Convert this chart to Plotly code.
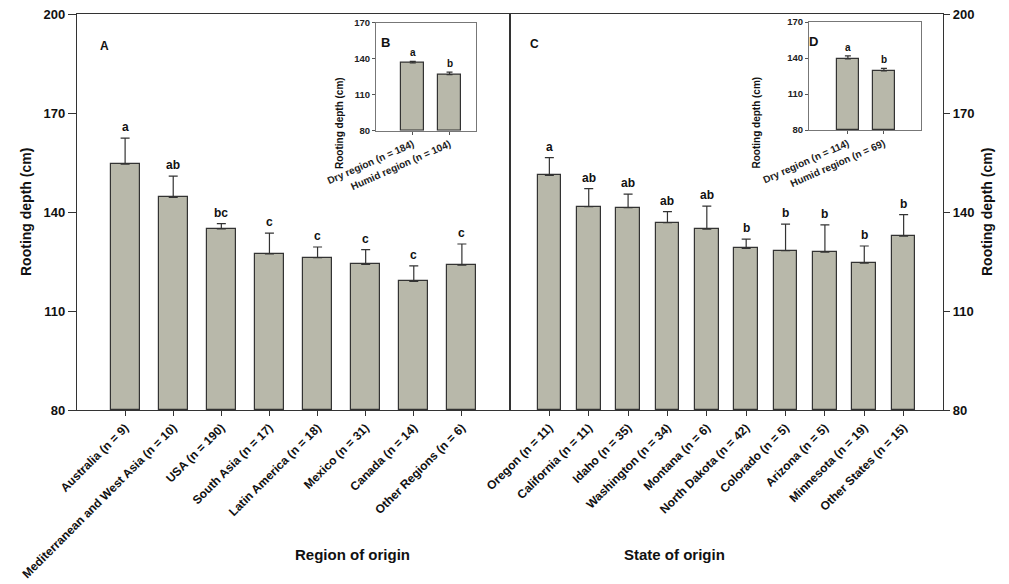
import plotly.graph_objects as go

# Panel A: rooting depth by region of origin
regions = ["Australia (n = 9)", "Mediterranean and West Asia (n = 10)", "USA (n = 190)",
           "South Asia (n = 17)", "Latin America (n = 18)", "Mexico (n = 31)",
           "Canada (n = 14)", "Other Regions (n = 6)"]
region_depth = [154.5, 144.4, 134.9, 127.3, 126.2, 124.1, 119.0, 123.9]
region_se = [7.9, 6.5, 1.6, 6.3, 3.2, 4.5, 4.7, 6.4]
region_group = ["a", "ab", "bc", "c", "c", "c", "c", "c"]

# Panel C: rooting depth by US state of origin
states = ["Oregon (n = 11)", "California (n = 11)", "Idaho (n = 35)", "Washington (n = 34)",
          "Montana (n = 6)", "North Dakota (n = 42)", "Colorado (n = 5)", "Arizona (n = 5)",
          "Minnesota (n = 19)", "Other States (n = 15)"]
state_depth = [151.1, 141.6, 141.3, 136.8, 134.8, 129.0, 128.3, 127.8, 124.5, 132.7]
state_se = [5.4, 5.5, 4.1, 3.3, 7.0, 2.8, 8.0, 8.3, 5.2, 6.5]
state_group = ["a", "ab", "ab", "ab", "ab", "b", "b", "b", "b", "b"]

# Insets B and D: dry vs humid regions
climate_b = ["Dry region (n = 184)", "Humid region (n = 104)"]
depth_b = [136.4, 126.7]
se_b = [1.4, 2.1]
group_b = ["a", "b"]

climate_d = ["Dry region (n = 114)", "Humid region (n = 69)"]
depth_d = [139.2, 129.2]
se_d = [2.5, 2.2]
group_d = ["a", "b"]

main_ticks = [80, 110, 140, 170, 200]
inset_ticks = [80, 110, 140, 170]

W, H = 1009, 584
BAR = "#b8b8aa"
EDGE = "#333333"
FONT = "Liberation Sans, Arial, sans-serif"


def px(x):
    return x / W


def py(y):
    return 1 - y / H


def bar_trace(vals, errs, xa, ya, width, cap):
    pos = list(range(1, len(vals) + 1))
    return go.Bar(
        x=pos, y=[v - 80 for v in vals], base=80, xaxis=xa, yaxis=ya, width=width,
        marker=dict(color=BAR, line=dict(color=EDGE, width=1.2)),
        error_y=dict(type="data", array=errs, arrayminus=[0] * len(vals), symmetric=False,
                     color=EDGE, thickness=1.2, width=cap),
        showlegend=False, hoverinfo="skip",
    )


fig = go.Figure()
fig.add_trace(bar_trace(region_depth, region_se, "x", "y", 0.6, 4.5))
fig.add_trace(bar_trace(state_depth, state_se, "x2", "y2", 0.6, 4.5))
fig.add_trace(bar_trace(depth_b, se_b, "x3", "y3", 0.62, 3))
fig.add_trace(bar_trace(depth_d, se_d, "x4", "y4", 0.63, 3))

bold = lambda s: "<b>%s</b>" % s

main_x = dict(showline=True, linecolor=EDGE, linewidth=1.2, mirror=True, ticks="outside",
              ticklen=5, tickcolor=EDGE, tickangle=-45, showgrid=False, zeroline=False,
              automargin=False,
              tickfont=dict(family=FONT, size=12, color="#111"), fixedrange=True)
main_y = dict(range=[80, 200], tickvals=main_ticks, ticktext=[bold(t) for t in main_ticks],
              showline=True, linecolor=EDGE, linewidth=1.2, ticks="outside", tickcolor=EDGE,
              showgrid=False, zeroline=False, mirror=True, automargin=False,
              tickfont=dict(family=FONT, size=13, color="#111"), fixedrange=True)
inset_y = dict(range=[80, 170], tickvals=inset_ticks, ticktext=[bold(t) for t in inset_ticks],
               showline=True, linecolor="#777", linewidth=1, mirror=True, ticks="outside",
               ticklen=3, tickcolor="#555", showgrid=False, zeroline=False, automargin=False,
               tickfont=dict(family=FONT, size=9.5, color="#222"), fixedrange=True)
inset_x = dict(showline=True, linecolor="#777", linewidth=1, mirror=True, ticks="outside",
               ticklen=3, tickcolor="#555", tickangle=-24, showgrid=False, zeroline=False,
               automargin=False,
               tickfont=dict(family=FONT, size=10, color="#222"), fixedrange=True)

fig.update_layout(
    width=W, height=H, margin=dict(l=0, r=0, t=0, b=0, autoexpand=False),
    paper_bgcolor="white", plot_bgcolor="rgba(0,0,0,0)", bargap=0,
    xaxis=dict(main_x, domain=[px(77), px(510)], range=[0, 9], anchor="y",
               tickvals=list(range(1, 9)), ticktext=[bold(s) for s in regions]),
    yaxis=dict(main_y, domain=[py(410), py(14)], anchor="x", ticklen=8),
    xaxis2=dict(main_x, domain=[px(510), px(943)], range=[0, 11], anchor="y2",
                tickvals=list(range(1, 11)), ticktext=[bold(s) for s in states]),
    yaxis2=dict(main_y, domain=[py(410), py(14)], anchor="x2", side="right", ticklen=6),
    xaxis3=dict(inset_x, domain=[px(376), px(476)], range=[0.0, 2.72], anchor="y3",
                tickvals=[1, 2], ticktext=[bold(s) for s in climate_b]),
    yaxis3=dict(inset_y, domain=[py(130.7), py(22.7)], anchor="x3"),
    xaxis4=dict(inset_x, domain=[px(809), px(921)], range=[-0.08, 3.03], anchor="y4",
                tickvals=[1, 2], ticktext=[bold(s) for s in climate_d]),
    yaxis4=dict(inset_y, domain=[py(130), py(22)], anchor="x4"),
)

ann = []


def letters(groups, vals, errs, xa, ya, size, shift):
    for i, (g, v, e) in enumerate(zip(groups, vals, errs)):
        ann.append(dict(x=i + 1, y=v + e, xref=xa, yref=ya, text=bold(g), showarrow=False,
                        yanchor="bottom", yshift=shift,
                        font=dict(family=FONT, size=size, color="#111")))


letters(region_group, region_depth, region_se, "x", "y", 12, 2)
letters(state_group, state_depth, state_se, "x2", "y2", 12, 2)
letters(group_b, depth_b, se_b, "x3", "y3", 10, 1)
letters(group_d, depth_d, se_d, "x4", "y4", 10, 1)

# panel labels
for lab, x, y, s in [("A", 98, 37, 12), ("C", 534, 35, 12), ("B", 385, 33, 13), ("D", 820, 32, 13)]:
    ann.append(dict(x=px(x), y=py(y), xref="paper", yref="paper", text=bold(lab),
                    showarrow=False, font=dict(family=FONT, size=s, color="#111")))

# axis titles
for txt, x, y, s, ang in [
    ("Rooting depth (cm)", 16, 212, 14, -90),
    ("Rooting depth (cm)", 997, 212, 14, -90),
    ("Rooting depth (cm)", 339, 75, 10, -90),
    ("Rooting depth (cm)", 763, 75, 10, -90),
    ("Region of origin", 293, 565, 15, 0),
    ("State of origin", 727, 565, 15, 0),
]:
    ann.append(dict(x=px(x), y=py(y), xref="paper", yref="paper", text=bold(txt),
                    showarrow=False, textangle=ang,
                    font=dict(family=FONT, size=s, color="#111")))

fig.update_layout(annotations=ann)
fig.write_html("out.html")
